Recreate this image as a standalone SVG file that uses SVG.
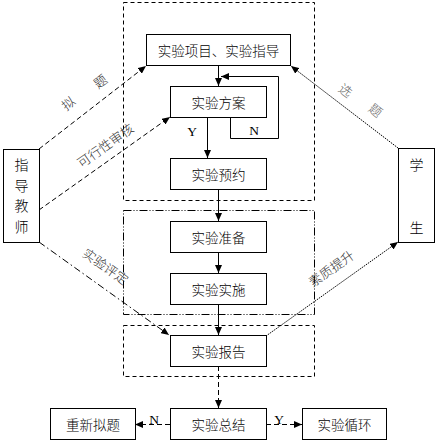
<svg xmlns="http://www.w3.org/2000/svg" width="438" height="443" viewBox="0 0 438 443">
<defs>
<marker id="ah" viewBox="0 0 8 7" markerWidth="8" markerHeight="7" refX="8" refY="3.5" orient="auto" markerUnits="userSpaceOnUse">
<path d="M0,0 L8,3.5 L0,7 z" fill="#000"/>
</marker>
<style>
.box{fill:#fff;stroke:#000;stroke-width:1}
.t{font-family:"Noto Sans CJK SC",sans-serif;font-weight:300;font-size:13.5px;fill:#000;text-anchor:middle;dominant-baseline:central}
.v{font-family:"Noto Sans CJK SC",sans-serif;font-weight:300;font-size:14px;fill:#000;text-anchor:middle;dominant-baseline:central}
.lab{font-family:"Noto Sans CJK SC",sans-serif;font-weight:300;font-size:13px;fill:#333;text-anchor:middle;dominant-baseline:central}
.yn{font-family:"Liberation Serif",serif;font-size:13.5px;fill:#000;text-anchor:middle;dominant-baseline:central}
.ln{fill:none;stroke:#000;stroke-width:1}
.dash{stroke-dasharray:4,3}
.dd{stroke-dasharray:8,2,1,2,1,2}
.da{stroke-dasharray:5,3}
.dot{stroke-dasharray:1.5,1}
.dda{stroke-dasharray:7,3,1.5,3}
</style>
</defs>
<g id="frames">
<rect x="123.5" y="2.5" width="191" height="198" class="ln dash"/>
<rect x="123.5" y="210.5" width="191" height="104" class="ln dd"/>
<rect x="123.5" y="325.5" width="191" height="51" class="ln dash"/>
</g>
<g id="connectors">
<line x1="218.5" y1="66" x2="218.5" y2="86" class="ln" marker-end="url(#ah)"/>
<path d="M230.5,117 V138.5 H278.5 V76.5 H221" class="ln" marker-end="url(#ah)"/>
<line x1="207.5" y1="117" x2="207.5" y2="158" class="ln" marker-end="url(#ah)"/>
<line x1="218.5" y1="190" x2="218.5" y2="221" class="ln" marker-end="url(#ah)"/>
<line x1="218.5" y1="252" x2="218.5" y2="273" class="ln" marker-end="url(#ah)"/>
<line x1="218.5" y1="304" x2="218.5" y2="335" class="ln" marker-end="url(#ah)"/>
<line x1="218.5" y1="366" x2="218.5" y2="408" class="ln da" marker-end="url(#ah)"/>
<line x1="170" y1="424.5" x2="135" y2="424.5" class="ln da" marker-end="url(#ah)"/>
<line x1="266" y1="424.5" x2="302" y2="424.5" class="ln da" marker-end="url(#ah)"/>
<line x1="39" y1="149" x2="146" y2="66" class="ln da" marker-end="url(#ah)"/>
<line x1="39" y1="210" x2="170" y2="117" class="ln da" marker-end="url(#ah)"/>
<line x1="39" y1="242" x2="169" y2="335" class="ln dda" marker-end="url(#ah)"/>
<line x1="266" y1="336" x2="398" y2="242" class="ln dot" marker-end="url(#ah)"/>
<line x1="398" y1="148" x2="291" y2="66" class="ln dot" marker-end="url(#ah)"/>
<text x="192" y="131" class="yn">Y</text>
<text x="254" y="130" class="yn">N</text>
<text x="154" y="419" class="yn">N</text>
<text x="279" y="419" class="yn">Y</text>
<text class="lab" transform="translate(68,103) rotate(-38)">拟</text>
<text class="lab" transform="translate(100,81) rotate(-38)">题</text>
<text class="lab" transform="translate(105,145) rotate(-35)">可行性审核</text>
<text class="lab" transform="translate(106,266) rotate(35)">实验评定</text>
<text class="lab" transform="translate(331,268) rotate(-35)">素质提升</text>
<text class="lab" style="fill:#666" transform="translate(346,90) rotate(38)">选</text>
<text class="lab" style="fill:#666" transform="translate(376,110) rotate(38)">题</text>
</g>
<g id="n1"><rect x="146.5" y="34.5" width="144" height="31" class="box"/><text x="218.5" y="50" class="t">实验项目、实验指导</text></g>
<g id="n2"><rect x="170.5" y="86.5" width="96" height="31" class="box"/><text x="218.5" y="102" class="t">实验方案</text></g>
<g id="n3"><rect x="170.5" y="158.5" width="96" height="31" class="box"/><text x="218.5" y="174" class="t">实验预约</text></g>
<g id="n4"><rect x="170.5" y="221.5" width="96" height="31" class="box"/><text x="218.5" y="237" class="t">实验准备</text></g>
<g id="n5"><rect x="170.5" y="273.5" width="96" height="31" class="box"/><text x="218.5" y="289" class="t">实验实施</text></g>
<g id="n6"><rect x="170.5" y="335.5" width="96" height="31" class="box"/><text x="218.5" y="351" class="t">实验报告</text></g>
<g id="n7"><rect x="170.5" y="408.5" width="96" height="31" class="box"/><text x="218.5" y="424" class="t">实验总结</text></g>
<g id="n8"><rect x="50.5" y="408.5" width="85" height="31" class="box"/><text x="93" y="424" class="t">重新拟题</text></g>
<g id="n9"><rect x="302.5" y="408.5" width="84" height="31" class="box"/><text x="344.5" y="424" class="t">实验循环</text></g>
<g id="teacher"><rect x="3.5" y="149.5" width="36" height="93" class="box"/>
<text x="21.5" y="164" class="v">指</text><text x="21.5" y="184.5" class="v">导</text><text x="21.5" y="205" class="v">教</text><text x="21.5" y="225.5" class="v">师</text></g>
<g id="student"><rect x="398.5" y="148.5" width="36" height="94" class="box"/>
<text x="416.5" y="164" class="v">学</text><text x="416.5" y="227" class="v">生</text></g>
</svg>
